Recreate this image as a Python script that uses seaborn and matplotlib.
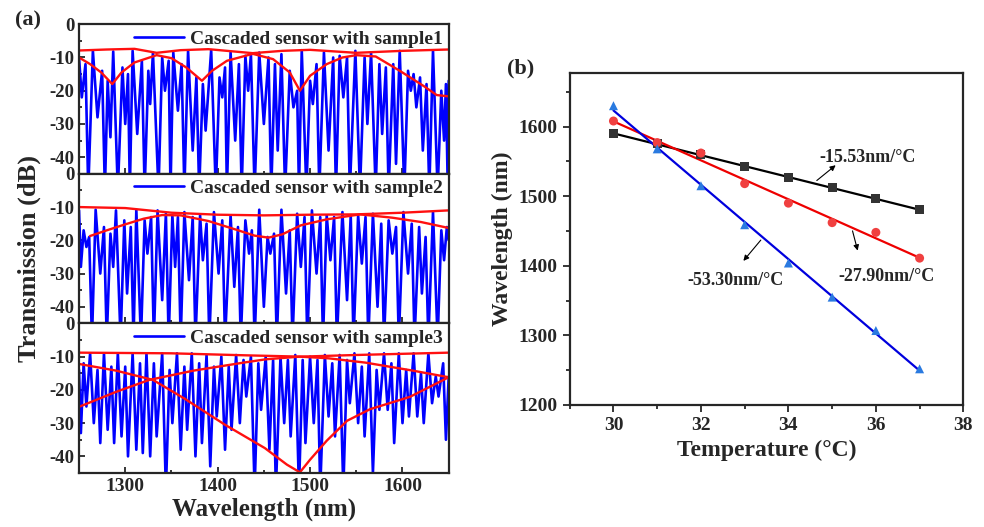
import numpy as np
import pandas as pd
import seaborn as sns
import matplotlib.pyplot as plt
from matplotlib.ticker import MultipleLocator

sns.set_style("ticks")
plt.rcParams['font.family'] = ['Liberation Serif', 'DejaVu Serif']
plt.rcParams['font.weight'] = 'bold'
plt.rcParams['axes.labelweight'] = 'bold'
plt.rcParams['axes.linewidth'] = 1.6
plt.rcParams['axes.unicode_minus'] = False

# ---- panel (a): transmission spectra, peaks/dips ----
wl1 = [1250, 1253, 1257, 1260, 1265, 1270, 1275, 1278, 1281, 1284, 1287, 1292, 1297, 1300, 1303, 1305,
       1308, 1313, 1318, 1321, 1325, 1327, 1330, 1336, 1340, 1343, 1347, 1349, 1352, 1357, 1361, 1364,
       1368, 1373, 1377, 1380, 1384, 1387, 1393, 1398, 1402, 1405, 1408, 1410, 1414, 1419, 1423, 1426,
       1430, 1433, 1436, 1440, 1445, 1450, 1455, 1458, 1462, 1465, 1469, 1473, 1478, 1482, 1486, 1488,
       1491, 1496, 1500, 1503, 1507, 1510, 1515, 1520, 1525, 1528, 1532, 1536, 1540, 1543, 1549, 1554,
       1559, 1562, 1566, 1571, 1575, 1578, 1582, 1585, 1590, 1593, 1597, 1602, 1606, 1609, 1612, 1615,
       1619, 1622, 1626, 1629, 1633, 1638, 1642, 1645, 1647, 1649, 1650]
db1 = [-10, -22, -12, -50, -8, -28, -14, -50, -17, -34, -8.2, -50, -13, -30, -15, -50,
       -8, -33, -11, -50, -14, -24, -8.5, -50, -10, -20, -11, -50, -8.5, -26, -12, -50,
       -8, -38, -16, -50, -18, -32, -7.8, -50, -16, -22, -13, -50, -8.5, -35, -12, -50,
       -9.5, -20, -9, -50, -8.5, -30, -10, -50, -12, -38, -9, -50, -14, -25, -20, -50,
       -7.8, -50, -17, -24, -12, -50, -8.5, -38, -10, -50, -9.5, -22, -10, -50, -8, -50,
       -10, -30, -8.5, -50, -12, -33, -13, -50, -12, -42, -8, -50, -14, -20, -15, -25,
       -16, -38, -18, -50, -8, -50, -20, -35, -18, -50, -17]

wl2 = [1250, 1252, 1255, 1258, 1261, 1264, 1268, 1273, 1277, 1280, 1284, 1287, 1290, 1295, 1299, 1302,
       1306, 1309, 1312, 1317, 1321, 1324, 1328, 1331, 1335, 1340, 1344, 1347, 1351, 1354, 1357, 1360,
       1364, 1369, 1373, 1376, 1381, 1384, 1388, 1391, 1396, 1401, 1405, 1408, 1414, 1418, 1422, 1425,
       1430, 1434, 1437, 1440, 1445, 1450, 1454, 1457, 1461, 1464, 1469, 1474, 1478, 1481, 1486, 1490,
       1494, 1497, 1502, 1507, 1511, 1514, 1518, 1522, 1526, 1529, 1535, 1540, 1544, 1547, 1552, 1556,
       1560, 1563, 1568, 1573, 1577, 1580, 1585, 1589, 1593, 1596, 1601, 1606, 1610, 1613, 1618, 1621,
       1625, 1628, 1633, 1638, 1642, 1645, 1648, 1650]
db2 = [-11, -28, -17, -22, -19, -50, -10.8, -30, -16, -50, -18, -28, -11, -50, -14, -36,
       -16, -50, -10.8, -50, -14, -24, -13, -50, -11, -38, -12, -50, -12.5, -28, -13, -50,
       -11.5, -32, -13, -50, -12.5, -26, -15, -50, -11.5, -30, -14, -50, -12.5, -34, -16, -50,
       -14, -24, -17, -50, -10.8, -40, -19, -24, -18, -50, -10.8, -36, -17, -50, -12, -28,
       -13, -50, -11, -30, -13, -50, -12.5, -26, -13, -50, -11.5, -38, -12.5, -50, -12.5, -27,
       -13, -50, -12, -40, -15, -50, -14, -24, -16, -50, -11.5, -30, -15, -50, -16, -36,
       -19, -50, -11.5, -50, -17, -26, -16, -20]

wl3 = [1250, 1252, 1255, 1258, 1262, 1266, 1270, 1273, 1277, 1281, 1285, 1288, 1292, 1296, 1300, 1303,
       1308, 1312, 1316, 1319, 1323, 1327, 1331, 1334, 1340, 1344, 1348, 1351, 1356, 1360, 1364, 1367,
       1372, 1376, 1380, 1383, 1388, 1392, 1396, 1399, 1404, 1408, 1412, 1415, 1420, 1424, 1428, 1431,
       1436, 1440, 1444, 1447, 1452, 1456, 1460, 1463, 1468, 1472, 1476, 1479, 1484, 1488, 1492, 1495,
       1500, 1504, 1508, 1511, 1516, 1520, 1524, 1527, 1532, 1536, 1540, 1543, 1548, 1552, 1556, 1559,
       1564, 1568, 1572, 1575, 1580, 1584, 1588, 1591, 1596, 1600, 1604, 1607, 1612, 1616, 1620, 1623,
       1628, 1632, 1636, 1639, 1644, 1647, 1650]
db3 = [-14, -33, -12, -25, -9, -30, -14, -36, -9, -32, -13, -36, -9, -34, -13, -40,
       -9, -38, -12, -39, -9, -40, -12, -34, -9, -50, -14, -30, -9, -38, -13, -32,
       -9, -40, -12, -36, -9.5, -43, -13, -28, -10, -38, -13, -32, -9.5, -30, -11, -22,
       -10, -50, -12, -26, -10, -38, -11, -50, -10, -30, -11, -34, -9.5, -50, -11, -36,
       -10, -30, -11, -50, -9.5, -28, -12, -34, -9.5, -50, -11, -24, -9, -30, -13, -34,
       -9, -45, -14, -26, -9, -26, -12, -36, -9, -30, -14, -28, -9, -28, -15, -30,
       -9, -24, -16, -22, -12, -35, -16]

# red envelope curves
env1_up_wl = [1250, 1280, 1310, 1334, 1360, 1390, 1438, 1470, 1500, 1550, 1600, 1650]
env1_up_db = [-7.9, -7.6, -7.4, -8.6, -7.8, -7.5, -8.7, -8.0, -7.7, -8.6, -8.0, -7.6]
env1_lo_wl = [1250, 1262, 1274, 1286, 1296, 1310, 1334, 1350, 1366, 1383, 1394, 1410, 1438, 1460,
              1478, 1489, 1500, 1518, 1535, 1550, 1571, 1597, 1623, 1637, 1650]
env1_lo_db = [-10, -12, -14.5, -18, -14.5, -11.5, -9.3, -10.2, -13, -17, -14, -11, -8.9, -10.5,
              -14.5, -20, -15.5, -12, -10, -9.3, -9.7, -14, -18.6, -21.3, -21.7]

env2_up_wl = [1250, 1300, 1350, 1400, 1450, 1500, 1550, 1600, 1650]
env2_up_db = [-10.0, -10.3, -11.7, -12.3, -12.5, -12.3, -12.2, -11.7, -11.0]
env2_lo_wl = [1262, 1280, 1300, 1320, 1340, 1360, 1390, 1420, 1440, 1455, 1470, 1490, 1518, 1554,
              1589, 1620, 1650]
env2_lo_db = [-18.7, -17, -15.2, -13.5, -12.4, -12.5, -14.2, -16.8, -18.6, -19.2, -18.2, -15.5,
              -13.7, -12.2, -13.2, -14.5, -16.3]

env3_up_wl = [1250, 1350, 1430, 1490, 1550, 1650]
env3_up_db = [-8.8, -9.0, -9.6, -10.0, -9.5, -8.8]
env3_a_wl = [1250, 1290, 1330, 1364, 1408, 1451, 1475, 1489, 1500, 1518, 1540, 1565, 1608, 1650]
env3_a_db = [-12.2, -14.2, -17, -22.6, -30.5, -37.5, -42.5, -44.8, -41, -35.3, -29.3, -25.8,
             -22.1, -16.2]
env3_b_wl = [1250, 1290, 1326, 1374, 1428, 1452, 1489, 1520, 1560, 1611, 1650]
env3_b_db = [-25.1, -20.6, -17, -14.2, -11.8, -10.8, -10, -10.5, -11.8, -14.2, -16.2]

# ---- panel (b): dip wavelength vs temperature ----
temp = [30, 31, 32, 33, 34, 35, 36, 37]
s1 = [1590, 1575, 1560, 1542, 1527, 1512, 1496, 1481]
s2 = [1608, 1577, 1562, 1518, 1490, 1462, 1448, 1411]
s3 = [1630, 1568, 1515, 1459, 1404, 1355, 1307, 1252]
labels = ["Cascaded sensor with sample1", "Cascaded sensor with sample2",
          "Cascaded sensor with sample3"]
slopes = ["-15.53nm/°C", "-27.90nm/°C", "-53.30nm/°C"]

fig = plt.figure(figsize=(9.84, 5.27), dpi=100)
gs = fig.add_gridspec(3, 1, left=0.0803, right=0.456, top=0.954, bottom=0.1025, hspace=0)
axs = [fig.add_subplot(gs[i]) for i in range(3)]

spectra = [(wl1, db1), (wl2, db2), (wl3, db3)]
envs = [
    [(env1_up_wl, env1_up_db), (env1_lo_wl, env1_lo_db)],
    [(env2_up_wl, env2_up_db), (env2_lo_wl, env2_lo_db)],
    [(env3_up_wl, env3_up_db), (env3_a_wl, env3_a_db), (env3_b_wl, env3_b_db)],
]
for i, ax in enumerate(axs):
    w, d = spectra[i]
    sns.lineplot(x=w, y=d, ax=ax, color="#0000ff", lw=1.9, estimator=None,
                 label=labels[i])
    for ew, ed in envs[i]:
        sns.lineplot(x=ew, y=ed, ax=ax, color="#ff1010", lw=1.7, estimator=None)
    ax.set_xlim(1250, 1650)
    ax.set_ylim(-45, 0)
    ax.set_yticks([0, -10, -20, -30, -40])
    ax.xaxis.set_major_locator(MultipleLocator(100))
    ax.xaxis.set_minor_locator(MultipleLocator(50))
    ax.yaxis.set_minor_locator(MultipleLocator(5))
    ax.tick_params(direction="in", which="both", labelsize=13.5, width=1.3)
    ax.tick_params(which="major", length=4)
    ax.tick_params(which="minor", length=2)
    ax.set_xlabel("")
    ax.set_ylabel("")
    ax.legend(loc="upper right", frameon=False, fontsize=14, handlelength=2.6,
              borderaxespad=0.1, borderpad=0.2, handletextpad=0.3)
    if i < 2:
        ax.tick_params(labelbottom=False)
    for lab in ax.get_xticklabels() + ax.get_yticklabels():
        lab.set_fontweight("bold")
axs[2].tick_params(axis="x", labelsize=14)
axs[2].set_xlabel("Wavelength (nm)", fontsize=18, fontweight="bold", labelpad=2)
fig.text(0.03, 0.51, "Transmission (dB)", rotation=90, fontsize=19, fontweight="bold",
         ha="center", va="center")
fig.text(0.015, 0.962, "(a)", fontsize=16, fontweight="bold", ha="left", va="center")

# panel (b)
axb = fig.add_axes([0.579, 0.2315, 0.4, 0.63])
df = pd.DataFrame({"T": temp, "s1": s1, "s2": s2, "s3": s3})
marks = [("s1", "#333333", "s", "black"), ("s2", "#f04040", "o", "#ee0000"),
         ("s3", "#2a7ae0", "^", "#0000dd")]
for (col, mc, mk, lc), lab in zip(marks, labels):
    sns.regplot(data=df, x="T", y=col, ax=axb, ci=None, scatter=False,
                line_kws={"color": lc, "lw": 1.6, "label": lab})
    sns.scatterplot(data=df, x="T", y=col, ax=axb, color=mc, marker=mk, s=42,
                    edgecolor="none", zorder=3)
axb.set_xlim(29, 38)
axb.set_ylim(1200, 1677)
axb.set_xticks([30, 32, 34, 36, 38])
axb.set_yticks([1200, 1300, 1400, 1500, 1600])
axb.xaxis.set_minor_locator(MultipleLocator(1))
axb.yaxis.set_minor_locator(MultipleLocator(50))
axb.tick_params(direction="out", which="both", labelsize=14, width=1.3)
axb.tick_params(which="major", length=5)
axb.tick_params(which="minor", length=3)
for lab in axb.get_xticklabels() + axb.get_yticklabels():
    lab.set_fontweight("bold")
axb.set_xlabel("Temperature (°C)", fontsize=17, fontweight="bold")
axb.set_ylabel("Wavelength (nm)", fontsize=17, fontweight="bold")
axb.legend(loc="lower left", frameon=False, fontsize=13, handlelength=2.3,
           borderaxespad=0.15, labelspacing=0.15, handletextpad=0.4)

# slope labels with arrows
axb.text(35.8, 1556, slopes[0], fontsize=13, fontweight="bold", ha="center", va="center")
axb.annotate("", xy=(35.13, 1547), xytext=(34.6, 1520),
             arrowprops=dict(arrowstyle="-|>", color="black", lw=0.8, mutation_scale=8))
axb.text(36.25, 1384, slopes[1], fontsize=13, fontweight="bold", ha="center", va="center")
axb.annotate("", xy=(35.6, 1418), xytext=(35.45, 1454),
             arrowprops=dict(arrowstyle="-|>", color="black", lw=0.8, mutation_scale=8))
axb.text(32.8, 1379, slopes[2], fontsize=13, fontweight="bold", ha="center", va="center")
axb.annotate("", xy=(32.93, 1404), xytext=(33.41, 1440),
             arrowprops=dict(arrowstyle="-|>", color="black", lw=0.8, mutation_scale=8))
fig.text(0.515, 0.87, "(b)", fontsize=16, fontweight="bold", ha="left", va="center")

fig.savefig("out.png", dpi=100)
